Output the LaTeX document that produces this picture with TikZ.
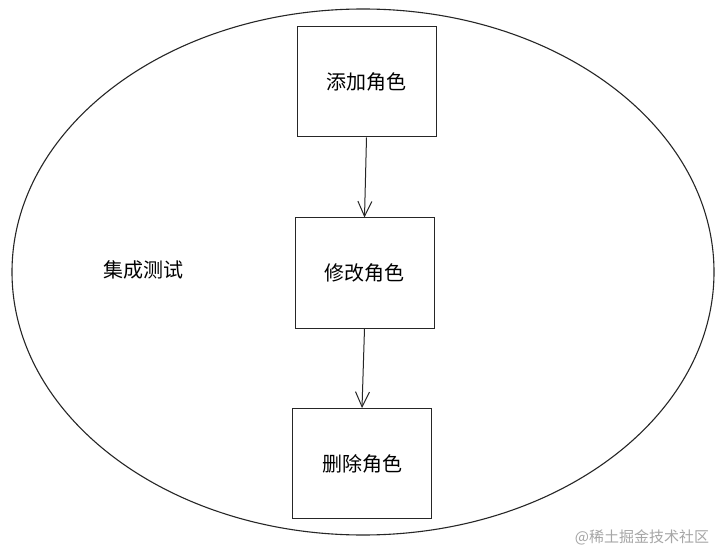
\documentclass[tikz,border=0pt]{standalone}
\usepackage{fontspec}
\newfontfamily\cjk{Noto Sans CJK SC}
\usetikzlibrary{arrows.meta}
\begin{document}
\begin{tikzpicture}[x=1pt,y=-1pt,
  stepbox/.style={draw=black!85,line width=1pt,minimum width=139pt,minimum height=110pt,inner sep=0pt,font=\cjk\fontsize{20}{24}\selectfont},
  flow/.style={draw=black!85,line width=1pt,-{Straight Barb[length=15pt,width=14pt,line width=1pt]}}]
\useasboundingbox (0,0) rectangle (723,556);
\fill[white] (0,0) rectangle (723,556);
\draw[black!85,line width=1.1pt] (363,272) ellipse [x radius=351, y radius=263];
\node[stepbox] (a) at (366.5,82) {添加角色};
\node[stepbox] (b) at (364.5,273) {修改角色};
\node[stepbox] (c) at (362,463.5) {删除角色};
\node[font=\cjk\fontsize{20}{24}\selectfont] (t) at (143,270) {集成测试};
\draw[flow] (a.south) -- (b.north);
\draw[flow] (b.south) -- (c.north);
\node[font=\cjk\fontsize{15}{18}\selectfont,text=black!35] (w) at (642,537) {@稀土掘金技术社区};
\end{tikzpicture}
\end{document}
